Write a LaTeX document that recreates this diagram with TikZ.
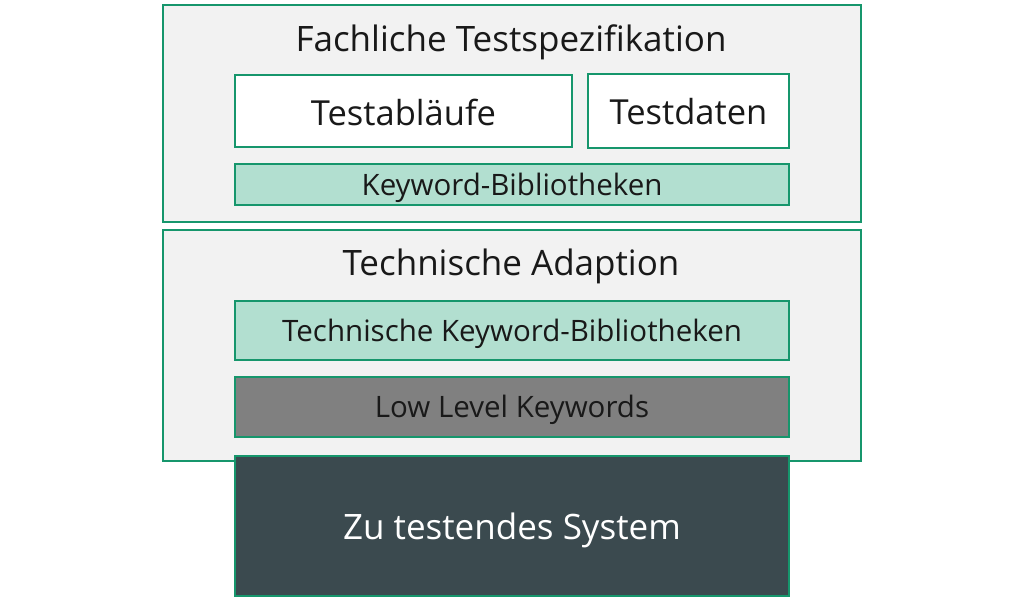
\documentclass[tikz,border=0pt]{standalone}
\usepackage{fontspec}
\setmainfont{Open Sans}
\definecolor{bgreen}{RGB}{22,150,108}
\definecolor{lgreen}{RGB}{178,223,208}
\definecolor{outerfill}{RGB}{242,242,242}
\definecolor{midgray}{RGB}{128,128,128}
\definecolor{darkslate}{RGB}{59,74,79}
% lower text inside a centred node by #1 pt (adds 2*#1 to height)
\newcommand\lowertxt[2]{\raisebox{0pt}[\dimexpr\height+#1pt+#1pt\relax][\depth]{#2}}
\tikzset{
  box/.style={draw=bgreen, line width=2pt, rectangle, inner sep=0pt, text=black!90},
  outerbox/.style={box, fill=outerfill},
  whitebox/.style={box, fill=white, font=\fontsize{34.5}{40}\selectfont},
  kwbox/.style={box, fill=lgreen, font=\fontsize{29.5}{34}\selectfont},
  lowbox/.style={box, fill=midgray, font=\fontsize{29.5}{34}\selectfont},
  sysbox/.style={box, fill=darkslate, text=white, font=\fontsize{35}{40}\selectfont},
  title/.style={inner sep=0pt, text=black!90, font=\fontsize{35}{40}\selectfont}
}
\begin{document}
\begin{tikzpicture}[x=1pt,y=-1pt]
\useasboundingbox (0,0) rectangle (1024,598);
% outer boxes
\node[outerbox, minimum width=698pt, minimum height=217pt] (outer1) at (512,113.5) {};
\node[outerbox, minimum width=698pt, minimum height=231pt] (outer2) at (512,345.5) {};
% titles
\node[title] (t1) at (511,42.5) {Fachliche Testspezifikation};
\node[title] (t2) at (511,266) {Technische Adaption};
% inner boxes
\node[whitebox, minimum width=337pt, minimum height=72pt] (ablauf) at (403.5,111) {\lowertxt{1}{Testabläufe}};
\node[whitebox, minimum width=201pt, minimum height=74pt] (daten) at (688.5,111) {\lowertxt{1}{Testdaten}};
\node[kwbox, minimum width=554pt, minimum height=41pt] (kw) at (512,184.5) {\lowertxt{3}{Keyword-Bibliotheken}};
\node[kwbox, minimum width=554pt, minimum height=59pt] (tkw) at (512,330.5) {\lowertxt{3}{Technische Keyword-Bibliotheken}};
\node[lowbox, minimum width=554pt, minimum height=60pt] (low) at (512,407) {\lowertxt{3}{Low Level Keywords}};
\node[sysbox, minimum width=554pt, minimum height=140pt] (sys) at (512,526) {\lowertxt{4}{Zu testendes System}};
\end{tikzpicture}
\end{document}
